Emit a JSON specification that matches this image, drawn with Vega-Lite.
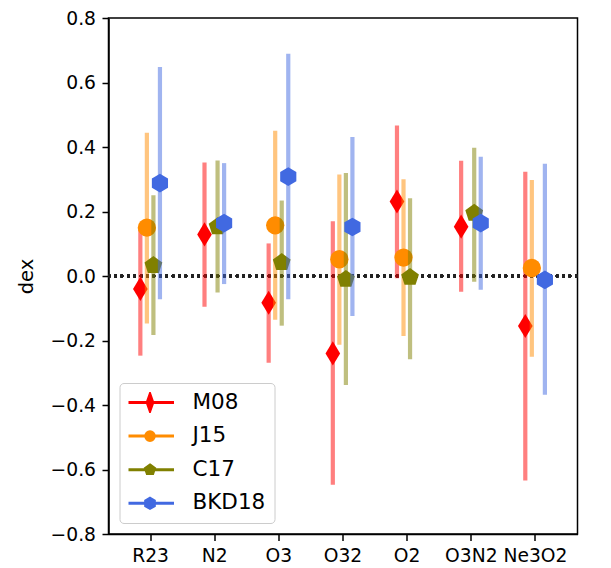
{
  "$schema": "https://vega.github.io/schema/vega-lite/v6.json",
  "autosize": "none",
  "width": 469,
  "height": 516,
  "padding": {"left": 108.5, "top": 18, "right": 33.5, "bottom": 34},
  "background": "white",
  "config": {
    "font": "DejaVu Sans",
    "view": {"stroke": "black", "strokeWidth": 1.5},
    "axis": {
      "domainColor": "black", "domainWidth": 1.5, "tickColor": "black", "tickWidth": 1.5,
      "tickSize": 6.5, "labelFontSize": 18.7, "labelColor": "black", "labelFont": "DejaVu Sans",
      "grid": false, "titleFont": "DejaVu Sans", "titleFontSize": 19.5, "titleFontWeight": "normal", "titleColor": "black"
    }
  },
  "data": {
    "values": [
      {"line": "R23", "series": "M08", "v": -0.04, "lo": -0.247, "hi": 0.143},
      {"line": "R23", "series": "J15", "v": 0.15, "lo": -0.147, "hi": 0.444},
      {"line": "R23", "series": "C17", "v": 0.033, "lo": -0.183, "hi": 0.25},
      {"line": "R23", "series": "BKD18", "v": 0.288, "lo": -0.072, "hi": 0.648},
      {"line": "N2", "series": "M08", "v": 0.129, "lo": -0.095, "hi": 0.352},
      {"line": "N2", "series": "C17", "v": 0.153, "lo": -0.051, "hi": 0.358},
      {"line": "N2", "series": "BKD18", "v": 0.164, "lo": -0.025, "hi": 0.35},
      {"line": "O3", "series": "M08", "v": -0.083, "lo": -0.269, "hi": 0.101},
      {"line": "O3", "series": "J15", "v": 0.157, "lo": -0.136, "hi": 0.45},
      {"line": "O3", "series": "C17", "v": 0.042, "lo": -0.154, "hi": 0.234},
      {"line": "O3", "series": "BKD18", "v": 0.308, "lo": -0.072, "hi": 0.689},
      {"line": "O32", "series": "M08", "v": -0.24, "lo": -0.647, "hi": 0.17},
      {"line": "O32", "series": "J15", "v": 0.052, "lo": -0.213, "hi": 0.315},
      {"line": "O32", "series": "C17", "v": -0.01, "lo": -0.338, "hi": 0.319},
      {"line": "O32", "series": "BKD18", "v": 0.152, "lo": -0.124, "hi": 0.431},
      {"line": "O2", "series": "M08", "v": 0.231, "lo": -0.007, "hi": 0.467},
      {"line": "O2", "series": "J15", "v": 0.057, "lo": -0.186, "hi": 0.3},
      {"line": "O2", "series": "C17", "v": -0.004, "lo": -0.258, "hi": 0.241},
      {"line": "O3N2", "series": "M08", "v": 0.153, "lo": -0.049, "hi": 0.357},
      {"line": "O3N2", "series": "C17", "v": 0.195, "lo": -0.018, "hi": 0.398},
      {"line": "O3N2", "series": "BKD18", "v": 0.164, "lo": -0.043, "hi": 0.37},
      {"line": "Ne3O2", "series": "M08", "v": -0.155, "lo": -0.634, "hi": 0.323},
      {"line": "Ne3O2", "series": "J15", "v": 0.025, "lo": -0.25, "hi": 0.298},
      {"line": "Ne3O2", "series": "BKD18", "v": -0.012, "lo": -0.368, "hi": 0.348}
    ]
  },
  "encoding": {
    "x": {
      "field": "line", "type": "nominal",
      "sort": ["R23", "N2", "O3", "O32", "O2", "O3N2", "Ne3O2"],
      "scale": {"paddingInner": 0, "paddingOuter": 0.155},
      "axis": {"title": null, "labelAngle": 0, "labelPadding": 6}
    },
    "xOffset": {
      "field": "series", "type": "nominal",
      "sort": ["M08", "J15", "C17", "BKD18"],
      "scale": {"type": "point", "padding": 0, "range": [21.9, 41.5]}
    }
  },
  "layer": [
    {
      "mark": {"type": "rule", "color": "#222222", "strokeWidth": 2.4, "strokeDash": [2.4, 4]},
      "encoding": {"x": null, "xOffset": null, "y": {"datum": 0, "type": "quantitative"}}
    },
    {
      "transform": [{"filter": "datum.series === 'M08'"}],
      "mark": {"type": "rule", "color": "#ff0000", "opacity": 0.5, "strokeWidth": 4.2},
      "encoding": {
        "y": {"field": "lo", "type": "quantitative", "scale": {"domain": [-0.8, 0.8], "nice": false, "zero": false},
              "axis": {"title": "dex", "values": [-0.8, -0.6, -0.4, -0.2, 0, 0.2, 0.4, 0.6, 0.8], "format": ".1f", "labelPadding": 6.5, "titlePadding": 14}},
        "y2": {"field": "hi"}
      }
    },
    {
      "transform": [{"filter": "datum.series === 'M08'"}],
      "mark": {"type": "point", "filled": true, "opacity": 1, "color": "#ff0000", "size": 335, "shape": "M0,-1.32L0.8,0L0,1.32L-0.8,0Z"},
      "encoding": {"y": {"field": "v", "type": "quantitative"}}
    },
    {
      "transform": [{"filter": "datum.series === 'J15'"}],
      "mark": {"type": "rule", "color": "#ff8c00", "opacity": 0.5, "strokeWidth": 4.2},
      "encoding": {"y": {"field": "lo", "type": "quantitative"}, "y2": {"field": "hi"}}
    },
    {
      "transform": [{"filter": "datum.series === 'J15'"}],
      "mark": {"type": "point", "filled": true, "opacity": 1, "color": "#ff8c00", "size": 335, "shape": "circle"},
      "encoding": {"y": {"field": "v", "type": "quantitative"}}
    },
    {
      "transform": [{"filter": "datum.series === 'C17'"}],
      "mark": {"type": "rule", "color": "#808000", "opacity": 0.5, "strokeWidth": 4.2},
      "encoding": {"y": {"field": "lo", "type": "quantitative"}, "y2": {"field": "hi"}}
    },
    {
      "transform": [{"filter": "datum.series === 'C17'"}],
      "mark": {"type": "point", "filled": true, "opacity": 1, "color": "#808000", "size": 335, "shape": "M0,-1.02L0.97,-0.315L0.6,0.825L-0.6,0.825L-0.97,-0.315Z"},
      "encoding": {"y": {"field": "v", "type": "quantitative"}}
    },
    {
      "transform": [{"filter": "datum.series === 'BKD18'"}],
      "mark": {"type": "rule", "color": "#4169e1", "opacity": 0.5, "strokeWidth": 4.2},
      "encoding": {"y": {"field": "lo", "type": "quantitative"}, "y2": {"field": "hi"}}
    },
    {
      "transform": [{"filter": "datum.series === 'BKD18'"}],
      "mark": {"type": "point", "filled": true, "opacity": 1, "color": "#4169e1", "size": 335, "shape": "M0,-1.02L0.883,-0.51L0.883,0.51L0,1.02L-0.883,0.51L-0.883,-0.51Z"},
      "encoding": {"y": {"field": "v", "type": "quantitative"}}
    },
    {
      "transform": [{"filter": "datum.series === 'none'"}],
      "mark": {"type": "point", "filled": true, "opacity": 1, "size": 400},
      "encoding": {
        "y": {"field": "v", "type": "quantitative"},
        "color": {
          "field": "series", "type": "nominal",
          "scale": {"domain": ["M08", "J15", "C17", "BKD18"], "range": ["#ff0000", "#ff8c00", "#808000", "#4169e1"]},
          "legend": {
            "title": null, "orient": "bottom-left", "offset": 11,
            "padding": 9, "strokeColor": "#cccccc", "fillColor": "white", "cornerRadius": 4,
            "labelFontSize": 21.5, "labelColor": "black", "labelFont": "DejaVu Sans", "labelOffset": 31,
            "symbolSize": 400, "symbolOffset": 10, "symbolStrokeWidth": 3, "symbolOpacity": 1,
            "clipHeight": 21, "rowPadding": 11.6
          }
        },
        "stroke": {
          "field": "series", "type": "nominal",
          "scale": {"domain": ["M08", "J15", "C17", "BKD18"], "range": ["#ff0000", "#ff8c00", "#808000", "#4169e1"]}
        },
        "shape": {
          "field": "series", "type": "nominal",
          "scale": {"domain": ["M08", "J15", "C17", "BKD18"], "range": [
            "M-2.4,0H2.4M0,-0.8L0.28,0L0,0.8L-0.28,0Z",
            "M-2.4,0H2.4M0.43,0A0.43,0.43 0 1,1 -0.43,0A0.43,0.43 0 1,1 0.43,0Z",
            "M-2.4,0H2.4M0,-0.47L0.45,-0.145L0.276,0.38L-0.276,0.38L-0.45,-0.145Z",
            "M-2.4,0H2.4M0,-0.5L0.433,-0.25L0.433,0.25L0,0.5L-0.433,0.25L-0.433,-0.25Z"
          ]}
        }
      }
    }
  ]
}
